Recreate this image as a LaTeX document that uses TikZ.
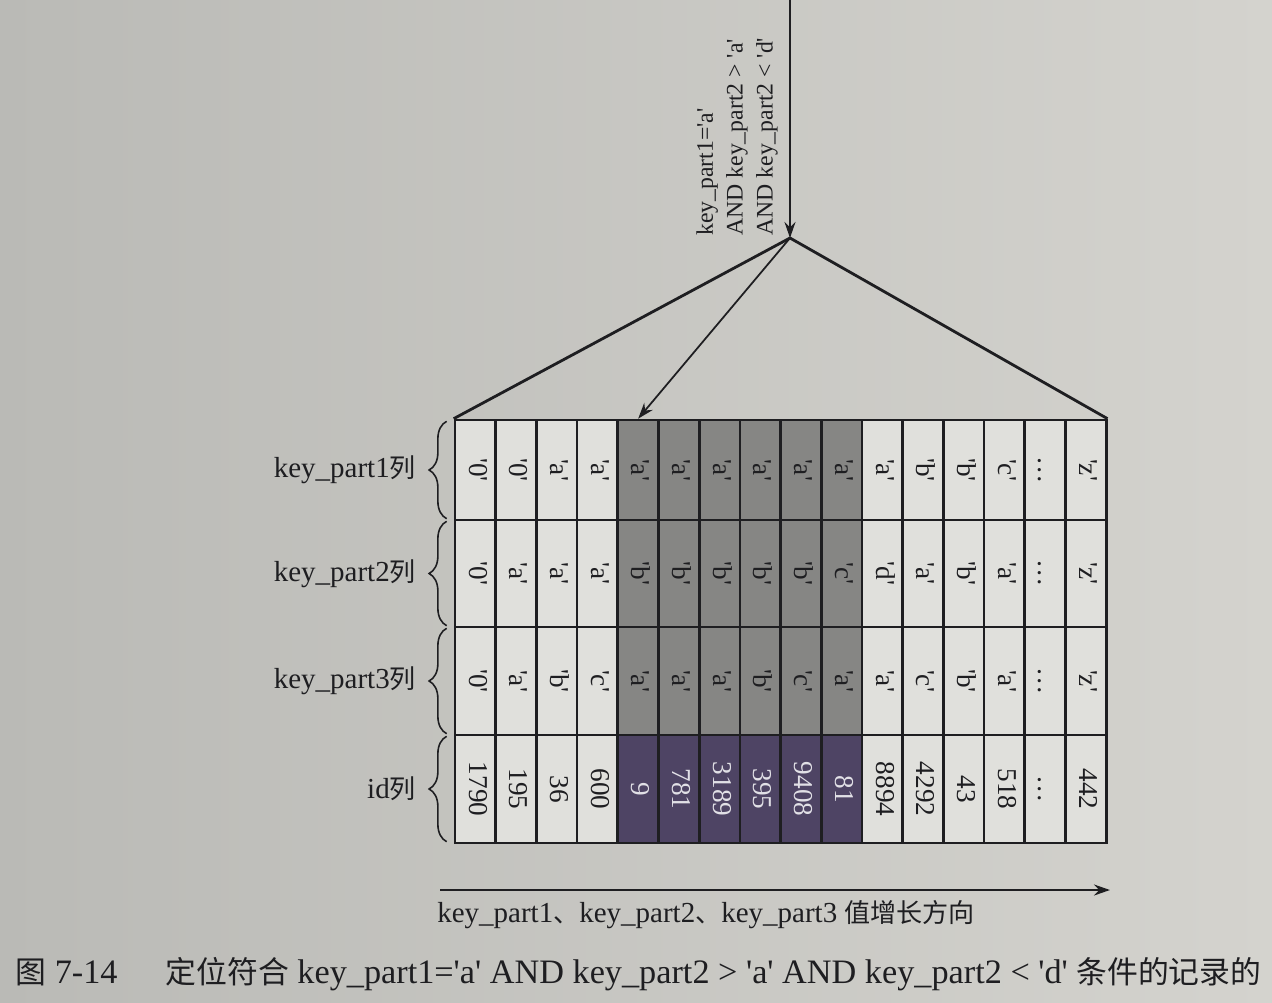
\documentclass[tikz,border=0pt]{standalone}
\usepackage{fontspec}
\newfontfamily\tms{Liberation Serif}
\newfontfamily\cjk{Noto Sans CJK SC}[Scale=0.9]
\usetikzlibrary{positioning,arrows.meta,decorations.pathreplacing}

\definecolor{ink}{RGB}{30,30,33}
\definecolor{paperL}{RGB}{186,186,182}
\definecolor{paperR}{RGB}{212,211,206}
\definecolor{cellbg}{RGB}{224,224,220}
\definecolor{hitgrey}{RGB}{134,134,132}
\definecolor{hitpurple}{RGB}{78,68,100}
\definecolor{hittext}{RGB}{225,224,230}

\begin{document}
\begin{tikzpicture}[
  x=0.02cm, y=-0.02cm,
  font=\tms,
  >={Stealth[length=3.2mm, width=2.2mm]},
  cell/.style={draw=ink, line width=1.5pt, fill=cellbg, text=ink, inner sep=0pt,
               minimum width=0.814cm, font=\tms\fontsize{15.5}{18}\selectfont},
  rowlab/.style={font=\tms\fontsize{16.5}{20}\selectfont, text=ink, inner sep=0pt},
  query/.style={font=\tms\fontsize{13.5}{17}\selectfont, text=ink, align=left, inner sep=0pt},
  dirlab/.style={font=\tms\fontsize{16.5}{20}\selectfont, text=ink, inner sep=0pt},
  caption/.style={font=\tms\fontsize{19.5}{23}\selectfont, text=ink, inner sep=0pt},
  brace/.style={decorate, decoration={brace, amplitude=10pt}, draw=ink, line width=0.9pt},
  edge/.style={draw=ink, line width=1.6pt},
  arr/.style={->, draw=ink, line width=1pt},
]

%% ---------- page ----------
\path[use as bounding box, left color=paperL, right color=paperR] (0,0) rectangle (1272,1002);

%% ---------- index records (one column per record) ----------
\foreach \r/\yc/\h/\hitc/\hitt/\vals in {
  1/470/100/hitgrey/ink/{'0','0','a','a','a','a','a','a','a','a','a','b','b','c',\dots,'z'},
  2/573.5/107/hitgrey/ink/{'0','a','a','a','b','b','b','b','b','c','d','a','b','a',\dots,'z'},
  3/681/108/hitgrey/ink/{'0','a','b','c','a','a','a','b','c','a','a','c','b','a',\dots,'z'},
  4/789/108/hitpurple/hittext/{1790,195,36,600,9,781,3189,395,9408,81,8894,4292,43,518,\dots,442}}
{
  \foreach \v [count=\i] in \vals {
    \def\fc{cellbg}\def\tc{ink}
    \ifnum\i>4 \ifnum\i<11 \edef\fc{\hitc}\edef\tc{\hitt}\fi\fi
    \node[cell, fill=\fc, text=\tc, minimum height=\h*0.02cm]
      (c\r-\i) at ({455+(\i-0.5)*40.7}, \yc) {\rotatebox{-90}{\strut\v}};
  }
}

%% row braces and labels
\foreach \r/\t in {1/key\_part1, 2/key\_part2, 3/key\_part3, 4/id} {
  \draw[brace] ([xshift=-4pt, yshift=1.5pt]c\r-1.south west) -- ([xshift=-4pt, yshift=-1.5pt]c\r-1.north west);
  \node[rowlab, left=0.75cm of c\r-1] (lab\r) {\t{\cjk 列}};
}

%% ---------- search condition and located range ----------
\coordinate (qtop) at (790,0);
\coordinate (apex) at (790,238);
\draw[arr] (qtop) -- (apex);
\node[query, rotate=90, anchor=west] (query) at (737,236)
  {key\_part1='a'\\AND key\_part2 > 'a'\\AND key\_part2 < 'd'};

\draw[edge] (c1-1.north west) -- (apex) -- (c1-16.north east);
\draw[arr] (apex) -- (c1-5.north);

%% ---------- growth direction ----------
\coordinate (dirs) at (440,890);
\coordinate (dire) at (1110,890);
\draw[arr, line width=1.3pt] (dirs) -- (dire);
\node[dirlab, anchor=base west] (dir) at (437,922)
  {key\_part1{\cjk 、}key\_part2{\cjk 、}key\_part3 {\cjk 值增长方向}};

%% figure caption
\node[caption, anchor=base west] (fig) at (15,983)
  {{\cjk 图} 7-14\hspace{1.4em}{\cjk 定位符合} key\_part1='a' AND key\_part2 > 'a' AND key\_part2 < 'd' {\cjk 条件的记录的}};

\end{tikzpicture}
\end{document}
